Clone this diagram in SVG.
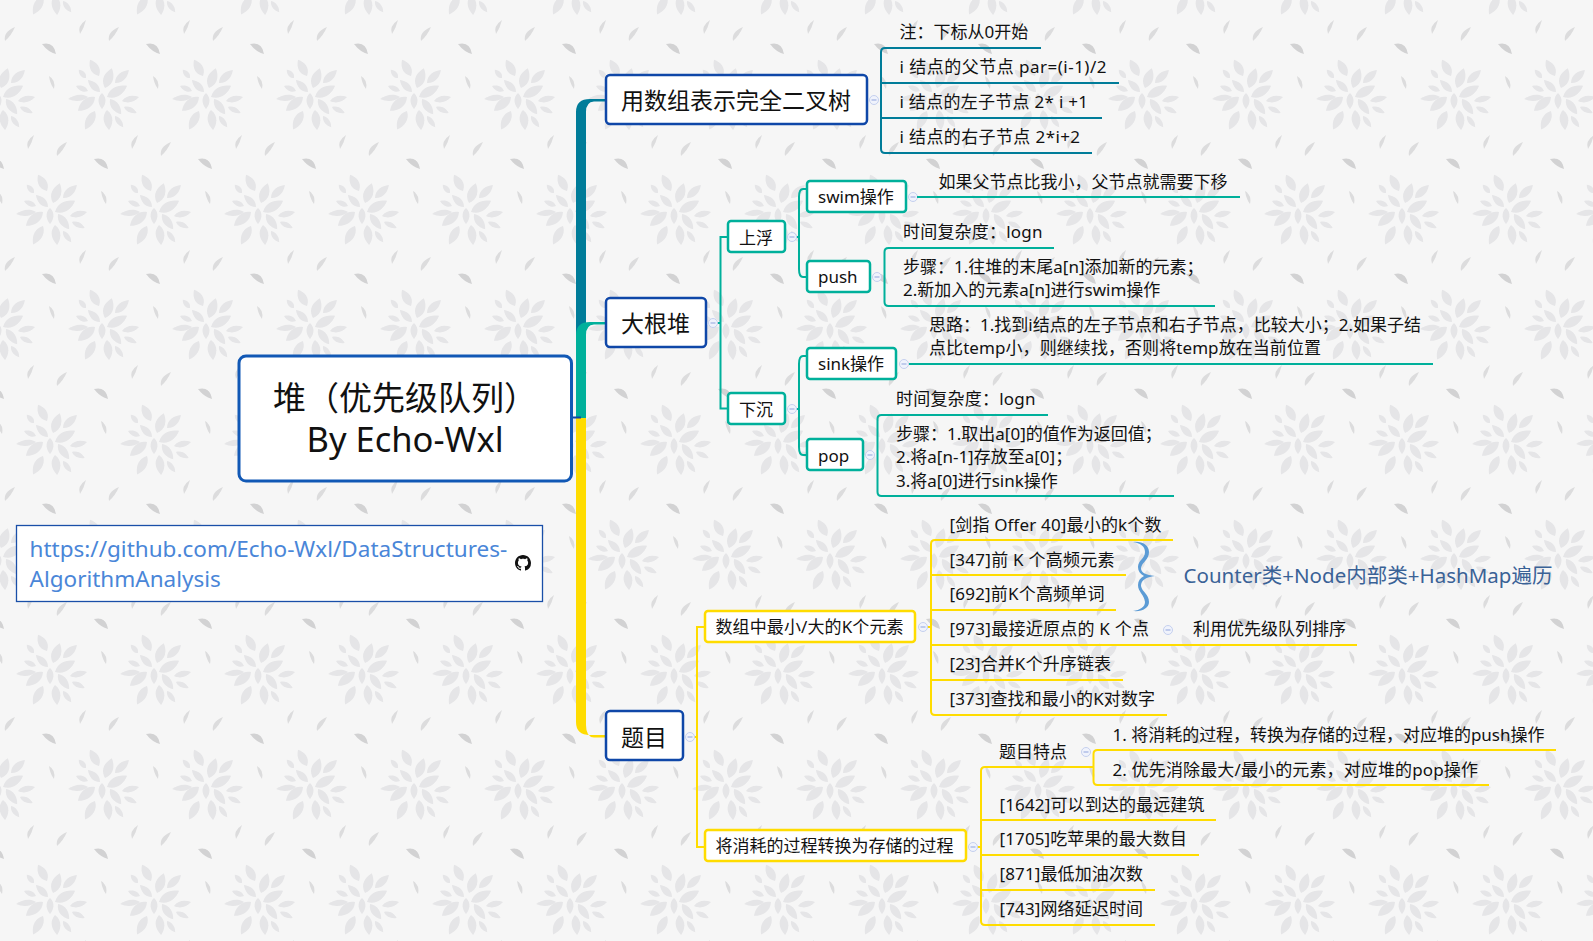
<svg xmlns="http://www.w3.org/2000/svg" width="1593" height="941" viewBox="0 0 1593 941">
<style>
text{font-family:"Noto Sans","Noto Sans CJK SC",sans-serif;fill:#111}
.t17{font-size:17px}
.t23{font-size:23px}
.tr{font-size:33px}
.lnk{font-size:22.500px;fill:#4a86d8}
.main{fill:#fff;stroke:#0f47a8;stroke-width:2.500}
.teal{fill:#fff;stroke:#00b09b;stroke-width:2.500}
.yel{fill:#fff;stroke:#ffdc00;stroke-width:2.500}
.c{fill:none;stroke-width:2}
.ct{stroke:#00b09b}.cy{stroke:#ffdc00}.cb{stroke:#007c99}
.u{fill:none;stroke-width:2}
.pt{fill:#e5e5e7}
.sd{fill:#dcdcdd}
</style>
<defs>
<path id="p" d="M0 0C.3-.65.7-.5 1 0 .7.5.3.65 0 0Z"/>
<g id="f" class="pt">
<use href="#p" transform="translate(-3,-21) rotate(-119) scale(18.500,10)"/>
<use href="#p" transform="translate(3,-9) rotate(-71) scale(21,11)"/>
<use href="#p" transform="translate(13,-14) rotate(-43) scale(19,9)"/>
<use href="#p" transform="translate(5,0) rotate(-29) scale(23,11)"/>
<use href="#p" transform="translate(20,4) rotate(-13) scale(17.500,7)"/>
<use href="#p" transform="translate(22,10) rotate(25) scale(14,6)"/>
<use href="#p" transform="translate(13,19) rotate(54) scale(14,6)"/>
<use href="#p" transform="translate(5,13) rotate(84) scale(20,10)"/>
<use href="#p" transform="translate(-7,14) rotate(118) scale(21,10)"/>
<use href="#p" transform="translate(-14,0) rotate(174) scale(20,7)"/>
<use href="#p" transform="translate(-7,0) rotate(141) scale(22,11)"/>
<use href="#p" transform="translate(-14,-6) rotate(-157) scale(13,6)"/>
<use href="#p" transform="translate(-16,-19) rotate(-131) scale(11,6)"/>
<use href="#p" transform="translate(-2,-5) rotate(-135) scale(17,8)"/>
<use href="#p" transform="translate(0,-4) rotate(90) scale(16,8)"/>
<use href="#p" transform="translate(8,2) rotate(54) scale(19,9)"/>
</g>
<g id="s">
<path class="sd" d="M80 34Q77 26 86 20 84 28 80 34Z"/>
<path class="sd" d="M109 41Q107 32 119 27 115 36 109 41Z"/>
<path fill="#d2d2d3" d="M42 44Q54 41 56 54 48 52 42 44Z"/>
<path class="sd" d="M49 76Q56 80 54 89 50 84 49 76Z"/>
</g>
<pattern id="bg" width="104" height="230" patternUnits="userSpaceOnUse">
<use href="#f" x="102" y="97"/><use href="#f" x="-2" y="97"/><use href="#f" x="50" y="212"/><use href="#f" x="50" y="-18"/>
<use href="#s"/><use href="#s" x="-104"/><use href="#s" x="-52" y="115"/><use href="#s" x="52" y="115"/>
</pattern>
<g id="m"><circle r="4.500" fill="#f0f3fc" stroke="#c5d0ef"/><path d="M-2.500 0H2.500" stroke="#8fa3dc"/></g>
</defs>
<rect width="1593" height="941" fill="#f6f6f6"/>
<rect width="1593" height="941" fill="url(#bg)"/>

<g id="connectors">
<path fill="#007c99" d="M576 418V112Q576 99 590 99H606V101.500H594Q586 102 586 112V418Z"/>
<path fill="#00b09b" d="M576 418V335Q576 322 590 322H606V324.500H594Q586 325 586 335V418Z"/>
<path fill="#ffdc00" d="M576 418V722Q576 735 590 735H606V737.500H594Q586 737 586 725V418Z"/>
<path d="M571 417.500H581" stroke="#0f47a8" stroke-width="2"/>
<path class="c ct" d="M728 237H720.500V408.500H728M716 323H720.500"/>
<path class="c ct" d="M807 189H803Q799 189 799 197V269Q799 277 803 277H807M796 237H799"/>
<path class="c ct" d="M807 356H803Q799 356 799 364V447Q799 455 803 455H807M796 409H799"/>
<path class="c cb" d="M887 48H885Q881 48 881 52V149Q881 153 885 153H887"/>
<path class="c ct" d="M890 248H888.500Q884.500 248 884.500 252V302Q884.500 306 888.500 306H890"/>
<path class="c ct" d="M883 415H881.500Q877.500 415 877.500 419V492Q877.500 496 881.500 496H883"/>
<path class="c cy" d="M705 627H697V847H705M694 737H697"/>
<path class="c cy" d="M937 540H935Q931 540 931 544V711Q931 715 935 715H937M927 627H931"/>
<path class="c cy" d="M987 767H985Q981 767 981 771V921Q981 925 985 925H987M977 847H981"/>
<path class="c cy" d="M1099 750H1097.500Q1093.500 750 1093.500 754V781Q1093.500 785 1097.500 785H1099"/>
</g>

<g id="root"><rect x="239" y="356" width="332.500" height="125" rx="7" fill="#fff" stroke="#1158b5" stroke-width="3"/>
<text class="tr" x="273" y="410">堆（优先级队列）</text><text x="306.500" y="452" font-size="34.500">By Echo-Wxl</text></g>

<g id="link"><rect x="16.500" y="525.500" width="526" height="76" fill="#fff" stroke="#1a4fa8" stroke-width="1.300"/>
<text class="lnk" x="29.500" y="557">https://github.com/Echo-Wxl/DataStructures-</text><text class="lnk" x="29.500" y="587">AlgorithmAnalysis</text>
<path fill="#111" transform="translate(515,555)" d="M8 0C3.580 0 0 3.580 0 8c0 3.540 2.290 6.530 5.470 7.590.4.070.55-.17.55-.38 0-.19-.01-.82-.01-1.490-2.010.37-2.530-.49-2.690-.94-.09-.23-.48-.94-.82-1.130-.28-.15-.68-.52-.01-.53.63-.01 1.080.58 1.230.82.72 1.210 1.870.87 2.330.66.07-.52.28-.87.51-1.070-1.780-.2-3.640-.89-3.640-3.950 0-.87.31-1.590.82-2.150-.08-.2-.36-1.020.08-2.120 0 0 .67-.21 2.200.82.64-.18 1.320-.27 2-.27.68 0 1.360.09 2 .27 1.530-1.040 2.200-.82 2.200-.82.44 1.100.16 1.920.08 2.120.51.56.82 1.270.82 2.150 0 3.070-1.870 3.750-3.650 3.950.29.25.54.73.54 1.480 0 1.070-.01 1.930-.01 2.200 0 .21.15.46.55.38A8.013 8.013 0 0016 8c0-4.420-3.580-8-8-8z"/></g>

<g id="n-array"><rect class="main" x="606" y="75" width="261" height="49" rx="4"/><text class="t23" x="621" y="108.500">用数组表示完全二叉树</text><use href="#m" x="874" y="100"/></g>
<g id="n-heap"><rect class="main" x="606" y="298" width="100" height="49" rx="4"/><text class="t23" x="621" y="332">大根堆</text><use href="#m" x="713" y="323"/></g>
<g id="n-problems"><rect class="main" x="606" y="711" width="77" height="49" rx="4"/><text class="t23" x="621" y="745.500">题目</text><use href="#m" x="690" y="737"/></g>

<g id="n-up"><rect class="teal" x="728" y="221" width="57" height="31" rx="3"/><text class="t17" x="739" y="243.500">上浮</text><use href="#m" x="792" y="237"/></g>
<g id="n-down"><rect class="teal" x="728" y="393" width="57" height="31" rx="3"/><text class="t17" x="739" y="415.500">下沉</text><use href="#m" x="792" y="409"/></g>
<g id="n-swim"><rect class="teal" x="807" y="181" width="99" height="31" rx="3"/><text class="t17" x="818" y="203">swim操作</text><use href="#m" x="913" y="197"/></g>
<g id="n-push"><rect class="teal" x="807" y="261" width="63" height="31" rx="3"/><text class="t17" x="818" y="283">push</text><use href="#m" x="877" y="277"/></g>
<g id="n-sink"><rect class="teal" x="807" y="348" width="89" height="31" rx="3"/><text class="t17" x="818" y="370">sink操作</text><use href="#m" x="904" y="364"/></g>
<g id="n-pop"><rect class="teal" x="807" y="439" width="56" height="31" rx="3"/><text class="t17" x="818" y="461.500">pop</text><use href="#m" x="870" y="455"/></g>

<g id="l-a1"><text class="t17" x="899.500" y="38">注：下标从0开始</text><path class="u cb" d="M885 48H1041"/></g>
<g id="l-a2"><text class="t17" x="899.500" y="73" textLength="207">i 结点的父节点 par=(i-1)/2</text><path class="u cb" d="M881 83H1119"/></g>
<g id="l-a3"><text class="t17" x="899.500" y="107.500" textLength="188.500">i 结点的左子节点 2* i +1</text><path class="u cb" d="M881 118H1102"/></g>
<g id="l-a4"><text class="t17" x="899.500" y="142.500" textLength="180.500">i 结点的右子节点 2*i+2</text><path class="u cb" d="M885 153H1092"/></g>

<g id="l-swim"><text class="t17" x="938.500" y="187.500">如果父节点比我小，父节点就需要下移</text><path class="u ct" d="M917 197H1240"/></g>
<g id="l-push1"><text class="t17" x="903" y="238" textLength="139.500">时间复杂度：logn</text><path class="u ct" d="M888 248H1054"/></g>
<g id="l-push2"><text class="t17" x="903" y="273">步骤：1.往堆的末尾a[n]添加新的元素；</text><text class="t17" x="903" y="296">2.新加入的元素a[n]进行swim操作</text><path class="u ct" d="M888 306H1215"/></g>
<g id="l-sink"><text class="t17" x="929" y="331">思路：1.找到i结点的左子节点和右子节点，比较大小；2.如果子结</text><text class="t17" x="929" y="354" textLength="392">点比temp小，则继续找，否则将temp放在当前位置</text><path class="u ct" d="M909 364H1433"/></g>
<g id="l-pop1"><text class="t17" x="896" y="405" textLength="139.500">时间复杂度：logn</text><path class="u ct" d="M881 415H1048"/></g>
<g id="l-pop2"><text class="t17" x="896" y="440">步骤：1.取出a[0]的值作为返回值；</text><text class="t17" x="896" y="463">2.将a[n-1]存放至a[0]；</text><text class="t17" x="896" y="486.500">3.将a[0]进行sink操作</text><path class="u ct" d="M881 496H1174"/></g>

<g id="n-topk"><rect class="yel" x="705" y="611" width="210" height="31" rx="3"/><text class="t17" x="715.500" y="632.500" textLength="188">数组中最小/大的K个元素</text><use href="#m" x="923" y="627"/></g>
<g id="n-conv"><rect class="yel" x="705" y="830" width="261" height="31" rx="3"/><text class="t17" x="715.500" y="852" textLength="238">将消耗的过程转换为存储的过程</text><use href="#m" x="973" y="847"/></g>

<g id="l-k1"><text class="t17" x="949.500" y="530.500" textLength="212">[剑指 Offer 40]最小的k个数</text><path class="u cy" d="M935 540H1173"/></g>
<g id="l-k2"><text class="t17" x="949.500" y="565.500" textLength="165">[347]前 K 个高频元素</text><path class="u cy" d="M931 575H1126"/></g>
<g id="l-k3"><text class="t17" x="949.500" y="600" textLength="155">[692]前K个高频单词</text><path class="u cy" d="M931 610H1116"/></g>
<g id="l-k4"><text class="t17" x="949.500" y="635" textLength="199.500">[973]最接近原点的 K 个点</text><path class="u cy" d="M931 645H1357"/><use href="#m" x="1168" y="630"/><text class="t17" x="1193" y="635">利用优先级队列排序</text></g>
<g id="l-k5"><text class="t17" x="949.500" y="670" textLength="161.500">[23]合并K个升序链表</text><path class="u cy" d="M931 680H1123"/></g>
<g id="l-k6"><text class="t17" x="949.500" y="705" textLength="205.500">[373]查找和最小的K对数字</text><path class="u cy" d="M935 715H1167"/></g>

<g id="note"><path fill="#5b9bd5" d="M1133 542C1142 541 1149 545 1149 552 1149 560 1142 562 1141 568 1141 573 1146 575 1155 576 1146 577 1141 580 1141 586 1142 592 1149 594 1149 602 1149 608 1142 612 1133 611 1140 610 1145 607 1145 602 1144 594 1138 592 1138 585 1138 581 1140 578 1144 576 1140 574 1138 571 1138 567 1138 560 1145 559 1145 552 1145 546 1140 543 1133 542Z"/>
<text x="1183.500" y="583" font-size="20.500" textLength="369" style="fill:#3a6296">Counter类+Node内部类+HashMap遍历</text></g>

<g id="l-feat"><text class="t17" x="999" y="757.500">题目特点</text><use href="#m" x="1086" y="752"/><path class="u cy" d="M985 767H1093"/></g>
<g id="l-f1"><text class="t17" x="1112.500" y="740.500" textLength="432">1. 将消耗的过程，转换为存储的过程，对应堆的push操作</text><path class="u cy" d="M1097 750H1556"/></g>
<g id="l-f2"><text class="t17" x="1112.500" y="775.500" textLength="365.500">2. 优先消除最大/最小的元素，对应堆的pop操作</text><path class="u cy" d="M1097 785H1489"/></g>
<g id="l-c1"><text class="t17" x="999.500" y="810.500" textLength="205">[1642]可以到达的最远建筑</text><path class="u cy" d="M981 820H1216"/></g>
<g id="l-c2"><text class="t17" x="999.500" y="845" textLength="187.500">[1705]吃苹果的最大数目</text><path class="u cy" d="M981 855H1199"/></g>
<g id="l-c3"><text class="t17" x="999.500" y="880" textLength="143.500">[871]最低加油次数</text><path class="u cy" d="M981 890H1155"/></g>
<g id="l-c4"><text class="t17" x="999.500" y="915" textLength="143.500">[743]网络延迟时间</text><path class="u cy" d="M985 925H1155"/></g>
</svg>
